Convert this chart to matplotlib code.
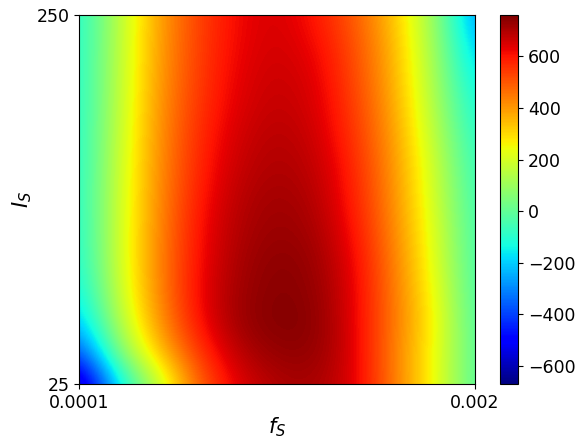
import numpy as np
import matplotlib.pyplot as plt

# values, bottom row first (I_S = 25 up to 250)
f_labels = ['0.0001', '0.002']
i_labels = ['25', '250']
row_0 = [-650, -160, 170, 490, 640, 700, 710, 640, 440, 250, -30]
row_1 = [-400, 60, 340, 550, 690, 735, 735, 640, 430, 255, -30]
row_2 = [-230, 150, 410, 610, 725, 755, 745, 630, 445, 265, -40]
row_3 = [-160, 190, 430, 625, 720, 750, 735, 630, 440, 250, -50]
row_4 = [-125, 205, 435, 615, 710, 745, 725, 620, 435, 225, -55]
row_5 = [-115, 205, 430, 610, 700, 730, 710, 600, 420, 215, -60]
row_6 = [-110, 200, 425, 595, 690, 720, 695, 580, 410, 195, -70]
row_7 = [-110, 195, 420, 580, 675, 705, 680, 570, 400, 185, -85]
row_8 = [-110, 185, 415, 570, 660, 695, 665, 550, 390, 160, -105]
row_9 = [-110, 175, 410, 555, 645, 680, 650, 535, 375, 135, -135]
row_10 = [-110, 170, 400, 545, 635, 670, 640, 520, 360, 120, -175]
row_11 = [-110, 165, 395, 540, 625, 660, 620, 510, 350, 105, -225]
row_12 = [-110, 160, 390, 535, 620, 655, 595, 490, 330, 95, -285]
grid = np.array([row_0, row_1, row_2, row_3, row_4, row_5, row_6, row_7,
                 row_8, row_9, row_10, row_11, row_12])

fig = plt.figure(figsize=(5.84, 4.47), dpi=100)
ax = fig.add_axes([79/584, 1-384/447, 396/584, 369/447])
im = ax.imshow(grid, origin='lower', cmap='jet', aspect='auto', interpolation='bicubic',
               vmin=-670, vmax=760, extent=[-0.045, 1.045, -0.04, 1.04])
ax.set_xlim(0, 1)
ax.set_ylim(0, 1)
ax.set_xticks([0, 1], f_labels, fontsize=12.5)
ax.set_yticks([0, 1], i_labels, fontsize=12.5)
ax.set_xlabel('$f_S$', fontsize=15, labelpad=3)
ax.set_ylabel('$I_S$', fontsize=15, labelpad=2)

cax = fig.add_axes([500/584, 1-384/447, 18/584, 369/447])
cb = fig.colorbar(im, cax=cax)
cb.set_ticks([-600, -400, -200, 0, 200, 400, 600])
cb.ax.tick_params(labelsize=12.5)

plt.savefig('out.png', dpi=100)
